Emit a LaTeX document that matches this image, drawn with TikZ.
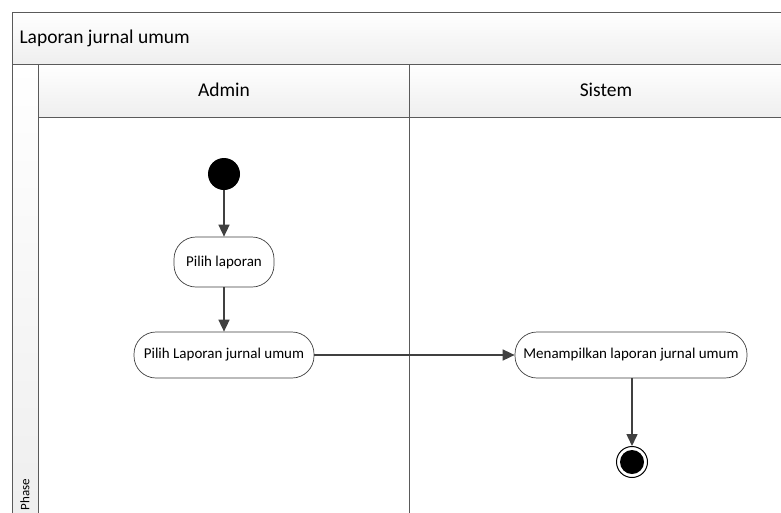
\documentclass[tikz,border=0pt]{standalone}
\usepackage{fontspec}
\setmainfont{Carlito}
\usetikzlibrary{arrows.meta}
\definecolor{trait}{HTML}{404040}
\definecolor{cadre}{HTML}{5A5A5A}
\begin{document}
\begin{tikzpicture}[x=1pt,y=-1pt]
\tikzset{entete/.style={draw=cadre, line width=0.8pt, top color=white, bottom color=gray!13},
  couloir/.style={draw=cadre, line width=0.8pt, fill=white},
  activite/.style={draw=trait, line width=0.7pt, fill=white, rounded corners=22pt, inner sep=0pt, font=\fontsize{15}{17}\selectfont},
  fleche/.style={draw=trait, line width=1.5pt, -{Triangle[length=12pt,width=11pt]}}}
\useasboundingbox (0,0) rectangle (781,512);
\clip (0,0) rectangle (781,512);
\draw[entete] (12,12) rectangle (790,64);
\draw[entete] (12,64) rectangle (38,520);
\draw[entete] (38,64) rectangle (409,117);
\draw[entete] (409,64) rectangle (790,117);
\draw[couloir] (38,117) rectangle (409,520);
\draw[couloir] (409,117) rectangle (790,520);
\node[anchor=west, font=\fontsize{19.5}{22}\selectfont] (titre) at (16,38) {Laporan jurnal umum};
\node[font=\fontsize{19.5}{22}\selectfont] (admin) at (224,90) {Admin};
\node[font=\fontsize{19.5}{22}\selectfont] (sistem) at (606,90) {Sistem};
\node[rotate=90, anchor=west, font=\fontsize{13}{15}\selectfont] (phase) at (25,514) {Phase};
\node[circle, fill=black, minimum size=32pt, inner sep=0pt] (debut) at (224,174) {};
\node[activite, minimum width=100pt, minimum height=50pt] (choix) at (224,262) {Pilih laporan};
\node[activite, minimum width=180pt, minimum height=46pt] (jurnal) at (224,355) {Pilih Laporan jurnal umum};
\node[activite, minimum width=232pt, minimum height=46pt] (affiche) at (631,355) {Menampilkan laporan jurnal umum};
\node[circle, draw=black, line width=1pt, fill=white, minimum size=31pt, inner sep=0pt,
  path picture={\fill[black] (path picture bounding box.center) circle (12pt);}] (fin) at (632,462) {};
\draw[fleche] (debut) -- (choix);
\draw[fleche] (choix) -- (jurnal);
\draw[fleche] (jurnal) -- (affiche);
\draw[fleche] (affiche.south -| fin) -- (fin);
\end{tikzpicture}
\end{document}
